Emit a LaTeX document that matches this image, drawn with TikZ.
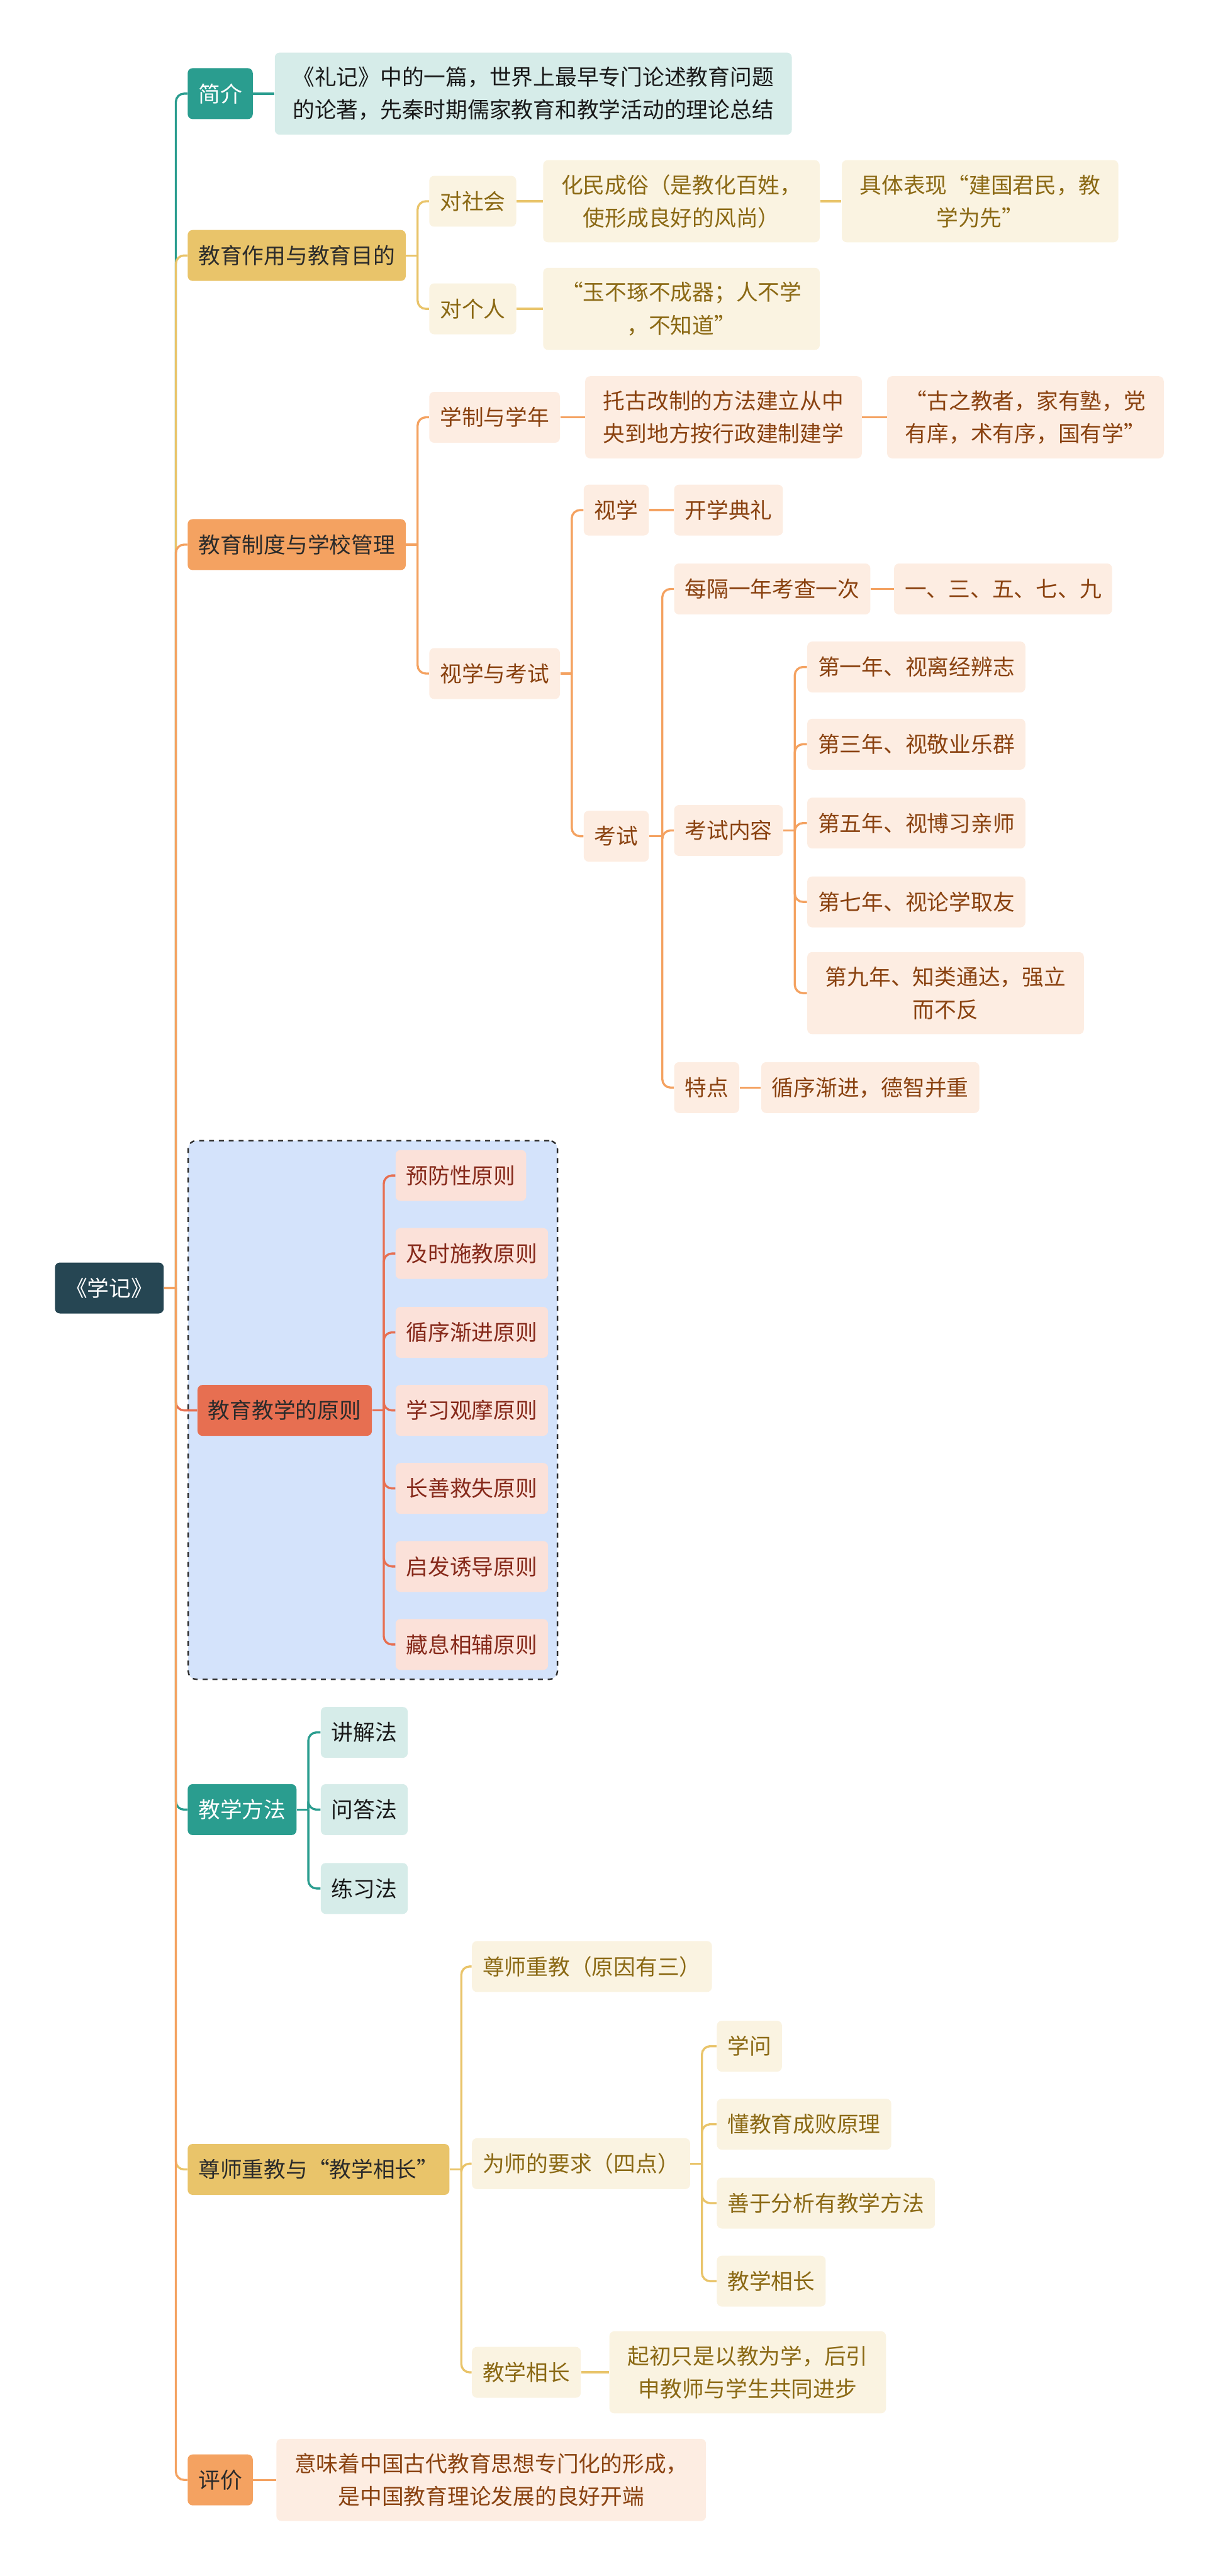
\documentclass[tikz,border=0pt]{standalone}
\usepackage{fontspec}
\setmainfont{Noto Sans CJK SC}
\usepackage{tikz}
\usetikzlibrary{positioning,fit,backgrounds}
\definecolor{rootblue}{HTML}{264653}
\definecolor{tealhd}{HTML}{2A9D8F}
\definecolor{sandhd}{HTML}{E9C46A}
\definecolor{peachhd}{HTML}{F4A261}
\definecolor{coralhd}{HTML}{E76F51}
\definecolor{tealbg}{HTML}{D6ECE9}
\definecolor{sandbg}{HTML}{FAF3E1}
\definecolor{peachbg}{HTML}{FDEDE2}
\definecolor{coralbg}{HTML}{FBE1D9}
\definecolor{sandtx}{HTML}{8B6914}
\definecolor{peachtx}{HTML}{8A4210}
\definecolor{coraltx}{HTML}{86291A}
\definecolor{framebg}{HTML}{D4E3FB}
\definecolor{inkgrey}{HTML}{2B2B2B}

\begin{document}
\begin{tikzpicture}[x=1pt,y=-1pt,
  every node/.style={font=\fontsize{13.3}{20}\selectfont},
  mmbox/.style={rounded corners=3pt,inner xsep=6.5pt,inner ysep=0pt,minimum height=31pt,align=center},
  para/.style={mmbox,inner xsep=11pt,minimum height=50pt},
  topic/.style={mmbox,fill=rootblue,text=white},
  hdT/.style={mmbox,fill=tealhd,text=white},
  hdS/.style={mmbox,fill=sandhd,text=inkgrey},
  hdP/.style={mmbox,fill=peachhd,text=inkgrey},
  hdC/.style={mmbox,fill=coralhd,text=inkgrey},
  lfT/.style={fill=tealbg,text=black!90},
  lfS/.style={fill=sandbg,text=sandtx},
  lfP/.style={fill=peachbg,text=peachtx},
  lfC/.style={fill=coralbg,text=coraltx},
  ln/.style={line width=1.3pt,rounded corners=5pt},
  dashframe/.style={draw=inkgrey,dashed,line width=0.9pt,fill=framebg,rounded corners=5pt,inner sep=5.5pt}]

\useasboundingbox (0,0) rectangle (741,1568);

\node[topic] (xueji) at (66.5,784) {《学记》};
\coordinate (hub0) at (107,784);

% 简介
\node[hdT,anchor=west] (jianjie) at (114,57) {简介};
\node[para,lfT,right=13pt of jianjie] (jjtext) {《礼记》中的一篇，世界上最早专门论述教育问题\\
  的论著，先秦时期儒家教育和教学活动的理论总结};

% 教育作用与教育目的
\node[hdS,anchor=west] (zuoyong) at (114,155.5) {教育作用与教育目的};
\coordinate[right=7pt of zuoyong] (hubA);
\node[mmbox,lfS,anchor=west] (shehui) at (261,122.5) {对社会};
\node[para,lfS,right=16pt of shehui] (huamin) {化民成俗（是教化百姓，\\使形成良好的风尚）};
\node[para,lfS,right=13pt of huamin] (jianguo) {具体表现“建国君民，教\\学为先”};
\node[mmbox,lfS,anchor=west] (geren) at (261,188) {对个人};
\node[para,lfS,right=16pt of geren] (yuzhuo) {“玉不琢不成器；人不学\\，不知道”};

% 教育制度与学校管理
\node[hdP,anchor=west] (zhidu) at (114,331.5) {教育制度与学校管理};
\coordinate[right=7pt of zhidu] (hubB);
\node[mmbox,lfP,anchor=west] (xuezhi) at (261,254) {学制与学年};
\node[para,lfP,right=15pt of xuezhi] (tuogu) {托古改制的方法建立从中\\央到地方按行政建制建学};
\node[para,lfP,right=15pt of tuogu] (guzhi) {“古之教者，家有塾，党\\有庠，术有序，国有学”};
\node[mmbox,lfP,anchor=west] (shikao) at (261,410) {视学与考试};
\coordinate[right=7pt of shikao] (hubC);
\node[mmbox,lfP,anchor=west] (shixue) at (355,310.5) {视学};
\node[mmbox,lfP,right=15pt of shixue] (dianli) {开学典礼};
\node[mmbox,lfP,anchor=west] (kaoshi) at (355,509) {考试};
\coordinate[right=8pt of kaoshi] (hubD);
\node[mmbox,lfP,anchor=west] (meige) at (410,358.5) {每隔一年考查一次};
\node[mmbox,lfP,right=14pt of meige] (jinian) {一、三、五、七、九};
\node[mmbox,lfP,anchor=west] (neirong) at (410,505.5) {考试内容};
\coordinate[right=7pt of neirong] (hubE);
\node[mmbox,lfP,anchor=west] (nian1) at (491,406) {第一年、视离经辨志};
\node[mmbox,lfP,anchor=west] (nian3) at (491,453) {第三年、视敬业乐群};
\node[mmbox,lfP,anchor=west] (nian5) at (491,501) {第五年、视博习亲师};
\node[mmbox,lfP,anchor=west] (nian7) at (491,549) {第七年、视论学取友};
\node[para,lfP,anchor=west] (nian9) at (491,604.5) {第九年、知类通达，强立\\而不反};
\node[mmbox,lfP,anchor=west] (tedian) at (410,662) {特点};
\node[mmbox,lfP,right=13pt of tedian] (xunxu) {循序渐进，德智并重};

% 教育教学的原则
\node[hdC,anchor=west] (yuanze) at (120,858.5) {教育教学的原则};
\coordinate[right=7pt of yuanze] (hubF);
\node[mmbox,lfC,anchor=west] (yz1) at (240.5,715.5) {预防性原则};
\node[mmbox,lfC,anchor=west] (yz2) at (240.5,763) {及时施教原则};
\node[mmbox,lfC,anchor=west] (yz3) at (240.5,811) {循序渐进原则};
\node[mmbox,lfC,anchor=west] (yz4) at (240.5,858.5) {学习观摩原则};
\node[mmbox,lfC,anchor=west] (yz5) at (240.5,906) {长善救失原则};
\node[mmbox,lfC,anchor=west] (yz6) at (240.5,953.5) {启发诱导原则};
\node[mmbox,lfC,anchor=west] (yz7) at (240.5,1001) {藏息相辅原则};
\begin{scope}[on background layer]
  \node[dashframe,fit=(yuanze)(yz1)(yz2)(yz7)] (yzframe) {};
\end{scope}

% 教学方法
\node[hdT,anchor=west] (fangfa) at (114,1101.5) {教学方法};
\coordinate[right=7pt of fangfa] (hubG);
\node[mmbox,lfT,anchor=west] (jiangjie) at (195,1054.5) {讲解法};
\node[mmbox,lfT,anchor=west] (wenda) at (195,1101.5) {问答法};
\node[mmbox,lfT,anchor=west] (lianxi) at (195,1149.5) {练习法};

% 尊师重教与“教学相长”
\node[hdS,anchor=west] (zunshi) at (114,1320.5) {尊师重教与“教学相长”};
\coordinate[right=7pt of zunshi] (hubH);
\node[mmbox,lfS,anchor=west] (yuanyin) at (287,1197) {尊师重教（原因有三）};
\node[mmbox,lfS,anchor=west] (yaoqiu) at (287,1317) {为师的要求（四点）};
\coordinate[right=7pt of yaoqiu] (hubI);
\node[mmbox,lfS,anchor=west] (xuewen) at (436,1245.5) {学问};
\node[mmbox,lfS,anchor=west] (chengbai) at (436,1293) {懂教育成败原理};
\node[mmbox,lfS,anchor=west] (shanyu) at (436,1341) {善于分析有教学方法};
\node[mmbox,lfS,anchor=west] (jxxz) at (436,1388.5) {教学相长};
\node[mmbox,lfS,anchor=west] (xiangzhang) at (287,1444) {教学相长};
\node[para,lfS,right=17pt of xiangzhang] (qichu) {起初只是以教为学，后引\\申教师与学生共同进步};

% 评价
\node[hdP,anchor=west] (pingjia) at (114,1509.5) {评价};
\node[para,lfP,right=14pt of pingjia] (yiwei) {意味着中国古代教育思想专门化的形成，\\是中国教育理论发展的良好开端};

% connectors
\foreach \b/\c in {jianjie/tealhd,zuoyong/sandhd,zhidu/peachhd,yuanze/coralhd,
                   fangfa/tealhd,zunshi/sandhd,pingjia/peachhd}
  \draw[ln,draw=\c] (hub0) |- (\b.west);
\draw[ln,peachhd] (xueji) -- (hub0);

\foreach \a/\h in {zuoyong/hubA,zunshi/hubH,yaoqiu/hubI} \draw[ln,sandhd] (\a) -- (\h);
\foreach \h/\b in {hubA/shehui,hubA/geren,hubH/yuanyin,hubH/yaoqiu,hubH/xiangzhang,
                   hubI/xuewen,hubI/chengbai,hubI/shanyu,hubI/jxxz}
  \draw[ln,sandhd] (\h) |- (\b.west);
\foreach \a/\b in {shehui/huamin,huamin/jianguo,geren/yuzhuo,xiangzhang/qichu}
  \draw[ln,sandhd] (\a) -- (\b);

\foreach \a/\h in {zhidu/hubB,shikao/hubC,kaoshi/hubD,neirong/hubE} \draw[ln,peachhd] (\a) -- (\h);
\foreach \h/\b in {hubB/xuezhi,hubB/shikao,hubC/shixue,hubC/kaoshi,hubD/meige,hubD/neirong,
                   hubD/tedian,hubE/nian1,hubE/nian3,hubE/nian5,hubE/nian7,hubE/nian9}
  \draw[ln,peachhd] (\h) |- (\b.west);
\foreach \a/\b in {xuezhi/tuogu,tuogu/guzhi,shixue/dianli,meige/jinian,tedian/xunxu,pingjia/yiwei}
  \draw[ln,peachhd] (\a) -- (\b);

\draw[ln,coralhd] (yuanze) -- (hubF);
\foreach \b in {yz1,yz2,yz3,yz4,yz5,yz6,yz7} \draw[ln,coralhd] (hubF) |- (\b.west);

\draw[ln,tealhd] (jianjie) -- (jjtext);
\draw[ln,tealhd] (fangfa) -- (hubG);
\foreach \b in {jiangjie,wenda,lianxi} \draw[ln,tealhd] (hubG) |- (\b.west);
\end{tikzpicture}
\end{document}
